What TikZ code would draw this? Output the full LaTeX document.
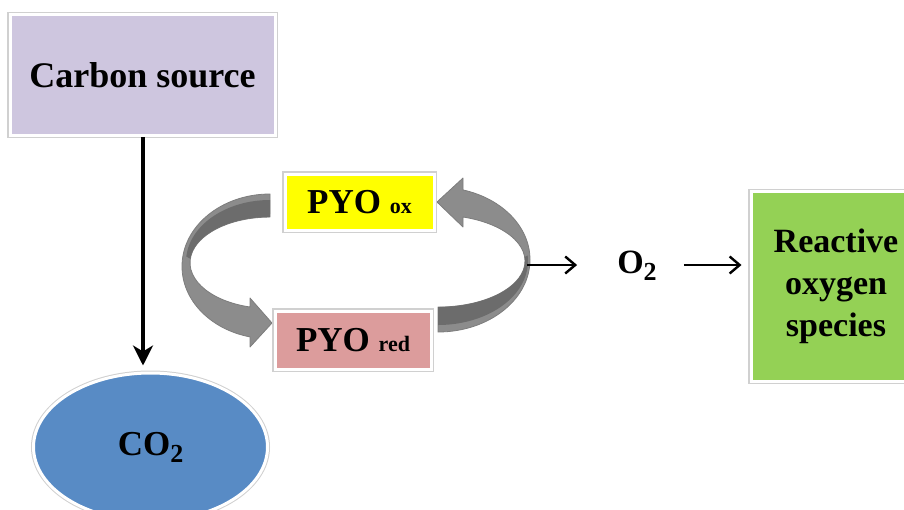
\documentclass[tikz,border=0pt]{standalone}
\usepackage{fontspec}
\setmainfont{Liberation Serif}
\usetikzlibrary{arrows.meta,shapes.geometric}
\definecolor{lav}{RGB}{206,198,223}
\definecolor{pyoy}{RGB}{255,255,0}
\definecolor{pyor}{RGB}{220,156,156}
\definecolor{rosg}{RGB}{148,209,85}
\definecolor{cob}{RGB}{88,139,197}
\definecolor{cyg}{RGB}{140,140,140}
\definecolor{cyd}{RGB}{108,108,108}
\definecolor{cyo}{RGB}{125,125,125}
\definecolor{rim}{RGB}{208,208,208}
\tikzset{
  box/.style={rectangle, fill=#1, draw=white, line width=3pt, inner sep=0pt,
    preaction={draw=rim, line width=5.5pt},
    font=\bfseries\fontsize{35}{42}\selectfont},
  bandfill/.style={fill=cyg, draw=cyo, line width=0.8pt, line join=round},
  banddark/.style={fill=cyd},
  sarrow/.style={line width=2.4pt, -{Straight Barb[length=10pt,width=17pt,line width=2.4pt]}},
  bigarrow/.style={line width=3.8pt, -{Stealth[length=20pt,width=20pt,inset=6pt]}}
}
\newcommand{\smallsub}[1]{{\fontsize{22}{22}\selectfont #1}}
\newcommand{\lowsub}[1]{\raisebox{-7pt}{\fontsize{26}{26}\selectfont #1}}
\begin{document}
\begin{tikzpicture}[x=1pt,y=-1pt]
\useasboundingbox (0,0) rectangle (904,509);

% curved arrows
\draw[bandfill] (270,194) arc[start angle=270, end angle=103.1, x radius=88, y radius=72.4]
  -- (250,347) -- (272,323) -- (250,298) -- (250,307)
  arc[start angle=104.5, end angle=270, x radius=80, y radius=45.7] -- cycle;
\fill[banddark] (270,200) arc[start angle=270, end angle=185, x radius=84, y radius=62]
  -- (190.3,258.7) arc[start angle=185, end angle=270, x radius=80, y radius=45.7] -- cycle;

\draw[bandfill] (438,332) arc[start angle=90, end angle=-74.2, x radius=92, y radius=72.4]
  -- (463,178) -- (437,202) -- (463,227) -- (463,217)
  arc[start angle=-73.3, end angle=90, x radius=87, y radius=46] -- cycle;
\fill[banddark] (438,325) arc[start angle=90, end angle=-5, x radius=90, y radius=64]
  -- (524.7,257) arc[start angle=-5, end angle=90, x radius=87, y radius=46] -- cycle;

% nodes
\node[box=lav, minimum width=265pt, minimum height=121pt, font=\bfseries\fontsize{36}{42}\selectfont] (carbon) at (142.5,75) {Carbon source};
\node[box=pyoy, minimum width=149pt, minimum height=56pt] (pyoox) at (359.5,202) {PYO \smallsub{ox}\hspace{16pt}};
\node[box=pyor, minimum width=156pt, minimum height=58pt] (pyored) at (353,340) {PYO \smallsub{red}\hspace{13pt}};
\node[box=rosg, minimum width=170pt, minimum height=190pt, align=center, font=\bfseries\fontsize{34}{42}\selectfont] (ros) at (836,286.5) {Reactive\\oxygen\\species};
\node[ellipse, fill=cob, draw=white, line width=3pt, inner sep=0pt,
  preaction={draw=rim, line width=5pt},
  minimum width=234pt, minimum height=148pt,
  font=\bfseries\fontsize{35}{40}\selectfont] (co2) at (150.5,447) {CO\lowsub{2}};
\node[inner sep=0pt, font=\bfseries\fontsize{34}{40}\selectfont] (o2) at (637,266) {O\lowsub{2}};
\coordinate (cyc) at (527,265);

% connectors
\draw[bigarrow, shorten >=6pt] (carbon.south -| 143,0) -- (143,0 |- co2.north);
\draw[sarrow, shorten >=40pt] (cyc) -- (cyc -| o2.west);
\draw[sarrow, shorten <=27pt, shorten >=8pt] (o2.east |- cyc) -- (ros.west |- cyc);
\end{tikzpicture}
\end{document}
